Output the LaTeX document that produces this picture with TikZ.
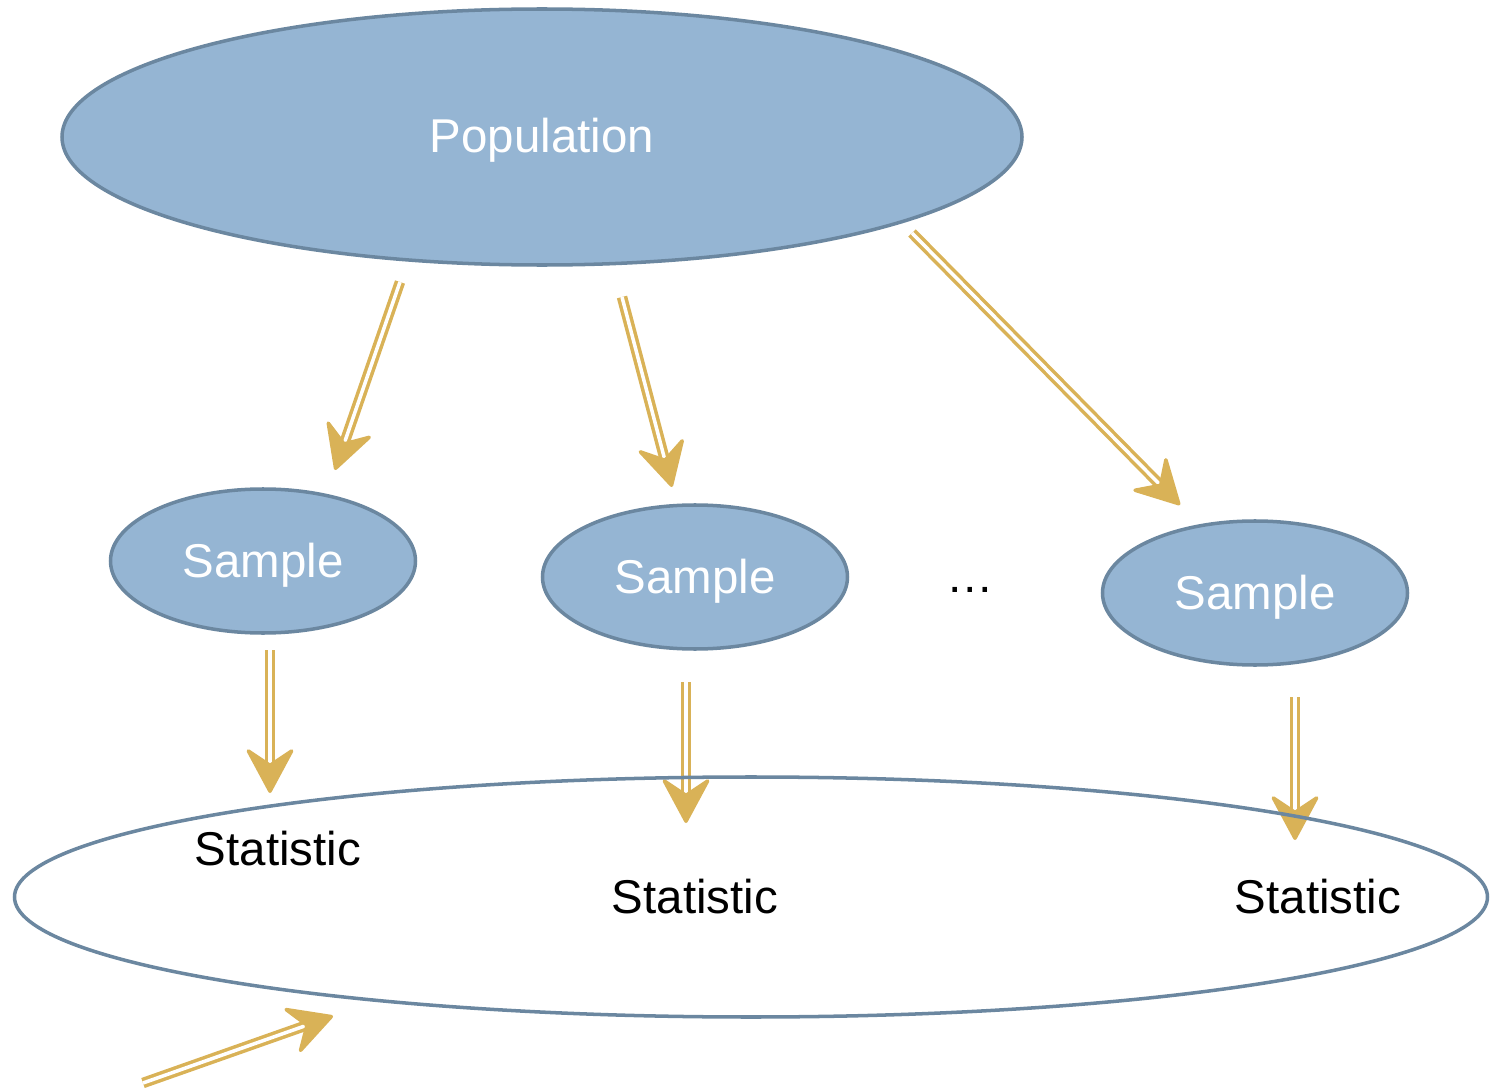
\documentclass[tikz,border=0pt]{standalone}
\usepackage{fontspec}
\setmainfont{Liberation Sans}
\usetikzlibrary{shapes.geometric, arrows.meta}
\definecolor{popblue}{HTML}{95B5D3}
\definecolor{popedge}{HTML}{6B87A0}
\definecolor{arrowgold}{HTML}{D9B257}
\tikzset{
	popnode/.style={
			shape=ellipse,
			draw=popedge,
			fill=popblue,
			line width=1pt,
			inner sep=0pt,
			text=white,
			text height=0.34cm,
			text depth=0.02cm,
			font=\fontsize{13.5}{16}\selectfont
		},
	samplenode/.style={
			popnode,
			minimum width=3.05cm,
			minimum height=1.44cm
		},
	setnode/.style={
			shape=ellipse,
			draw=popedge,
			line width=1pt,
			inner sep=0pt,
			minimum width=14.73cm,
			minimum height=2.4cm
		},
	stattext/.style={font=\fontsize{13.5}{16}\selectfont, text=black}
}
\tikzset{
	drawarrow/.style={
			draw=arrowgold,
			line width=1pt,
			double=white,
			double distance=1pt,
			-{Stealth[length=14pt, width=15pt, inset=5pt, round]}
		}
}

\begin{document}
\begin{tikzpicture}
			\useasboundingbox (0,0) rectangle (14.97,10.90);

			\node[popnode, minimum width=9.6cm, minimum height=2.56cm] (pop) at (5.42,9.53) {Population};

			\node[samplenode] (s1) at (2.63,5.29) {Sample};
			\node[samplenode] (s2) at (6.95,5.13) {Sample};
			\node[samplenode] (s3) at (12.55,4.97) {Sample};
			\node (dots) at (9.70,5.00) {\fontsize{13.5}{16}\selectfont\dots};

			% arrow ends
			\coordinate (a1) at (4.00,8.08);
			\coordinate (b1) at (3.35,6.20);
			\coordinate (a2) at (6.22,7.93);
			\coordinate (b2) at (6.72,6.03);
			\coordinate (a3) at (9.12,8.57);
			\coordinate (b3) at (11.80,5.85);
			\coordinate (a4) at (2.70,4.40);
			\coordinate (b4) at (2.70,2.97);
			\coordinate (a5) at (6.86,4.08);
			\coordinate (b5) at (6.86,2.67);
			\coordinate (a6) at (12.95,3.93);
			\coordinate (b6) at (12.95,2.50);
			\coordinate (a7) at (1.43,0.07);
			\coordinate (b7) at (3.33,0.74);

			\draw[drawarrow] (a1) -- (b1);
			\draw[drawarrow] (a2) -- (b2);
			\draw[drawarrow] (a3) -- (b3);
			\draw[drawarrow] (a4) -- (b4);
			\draw[drawarrow] (a5) -- (b5);
			\draw[drawarrow] (a6) -- (b6);
			\draw[drawarrow] (a7) -- (b7);

			\node[setnode] (stats) at (7.51,1.93) {};

			\node[stattext] (t1) at (2.78,2.41) {Statistic};
			\node[stattext] (t2) at (6.95,1.93) {Statistic};
			\node[stattext] (t3) at (13.18,1.93) {Statistic};

		\end{tikzpicture}
\end{document}
